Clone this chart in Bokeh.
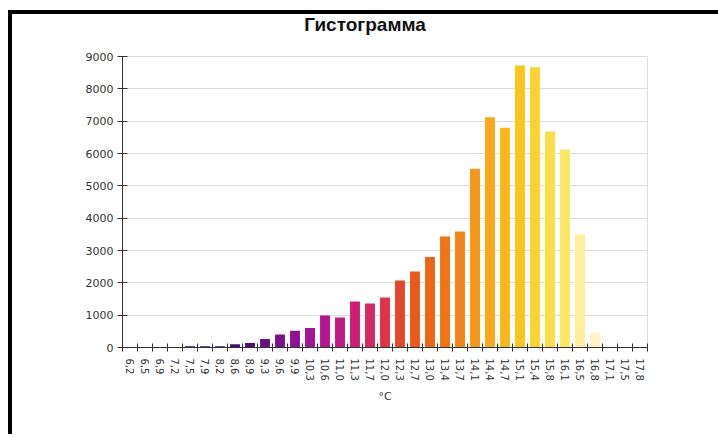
import math
import numpy as np
from bokeh.plotting import figure
from bokeh.models import Range1d, FixedTicker, Div
from bokeh.layouts import column
from bokeh.embed import file_html
from bokeh.resources import INLINE

title_text = "Гистограмма"
x_label = "°C"

categories = ["6,2", "6,5", "6,9", "7,2", "7,5", "7,9", "8,2", "8,6", "8,9", "9,3",
              "9,6", "9,9", "10,3", "10,6", "11,0", "11,3", "11,7", "12,0", "12,3", "12,7",
              "13,0", "13,4", "13,7", "14,1", "14,4", "14,7", "15,1", "15,4", "15,8", "16,1",
              "16,5", "16,8", "17,1", "17,5", "17,8"]

counts = [0, 0, 5, 12, 40, 40, 40, 100, 140, 265,
          400, 515, 605, 990, 930, 1420, 1360, 1550, 2070, 2350,
          2800, 3430, 3590, 5530, 7120, 6800, 8720, 8670, 6680, 6120,
          3500, 455, 40, 0, 0]

y_ticks = [0, 1000, 2000, 3000, 4000, 5000, 6000, 7000, 8000, 9000]

palette = ["#150b3d", "#170c45", "#1a0d4f", "#1d0e58", "#220f63", "#26106a", "#2c1070",
           "#3b0f75", "#4e0f7c", "#661085", "#7c118c", "#901293", "#a41497", "#b4158f",
           "#c21883", "#cd1d72", "#d62762", "#de3447", "#e4472c", "#e9581c", "#ec6616",
           "#ef7415", "#f28418", "#f59619", "#f8a81a", "#f9b71b", "#fbc51e", "#fcd230",
           "#fddd45", "#fde762", "#fdf09c", "#fef5c2", "#fef9dd", "#fffbea", "#fffdf2"]

n = len(categories)
centers = [i + 0.5 for i in range(n)]
edges = [float(i) for i in range(n + 1)]

head = Div(text=title_text, width=706, height=22, margin=0,
           styles={"font-family": "Liberation Sans", "font-size": "19px",
                   "font-weight": "bold", "color": "#111111",
                   "text-align": "center", "line-height": "22px"})

p = figure(width=706, height=398, output_backend="svg", toolbar_location=None,
           x_range=Range1d(0, n), y_range=Range1d(0, 9000),
           min_border_left=110, min_border_right=71, min_border_top=20,
           min_border_bottom=87, margin=0)

p.vbar(x=centers, top=counts, width=0.66, fill_color=palette, line_color=None)

p.xgrid.visible = False
p.ygrid.grid_line_color = "#dddddd"
p.outline_line_color = "#dddddd"
p.background_fill_color = "white"
p.border_fill_color = "white"

xa = p.xaxis[0]
xa.ticker = FixedTicker(ticks=centers, minor_ticks=edges)
xa.major_label_overrides = {c: lab for c, lab in zip(centers, categories)}
xa.major_label_orientation = -math.pi / 2
xa.major_tick_line_color = None
xa.minor_tick_in = 4
xa.minor_tick_out = 4
xa.minor_tick_line_color = "#333333"
xa.axis_line_color = "#333333"
xa.major_label_text_font = "DejaVu Sans"
xa.major_label_text_font_size = "10px"
xa.major_label_text_color = "#333333"
xa.major_label_standoff = 5
xa.axis_label = x_label
xa.axis_label_text_font = "DejaVu Sans"
xa.axis_label_text_font_size = "11px"
xa.axis_label_text_font_style = "normal"
xa.axis_label_text_color = "#333333"
xa.axis_label_standoff = 6

ya = p.yaxis[0]
ya.ticker = FixedTicker(ticks=y_ticks)
ya.major_tick_in = 5
ya.major_tick_out = 5
ya.major_tick_line_color = "#333333"
ya.minor_tick_line_color = None
ya.axis_line_color = "#333333"
ya.major_label_text_font = "DejaVu Sans"
ya.major_label_text_font_size = "11px"
ya.major_label_text_color = "#333333"
ya.major_label_standoff = 4

page = column(head, p, spacing=0)
page.styles = {"border-top": "4px solid black", "border-left": "4px solid black",
               "margin-top": "10px", "margin-left": "8px", "background": "white"}

open("out.html", "w").write(file_html(page, INLINE))
